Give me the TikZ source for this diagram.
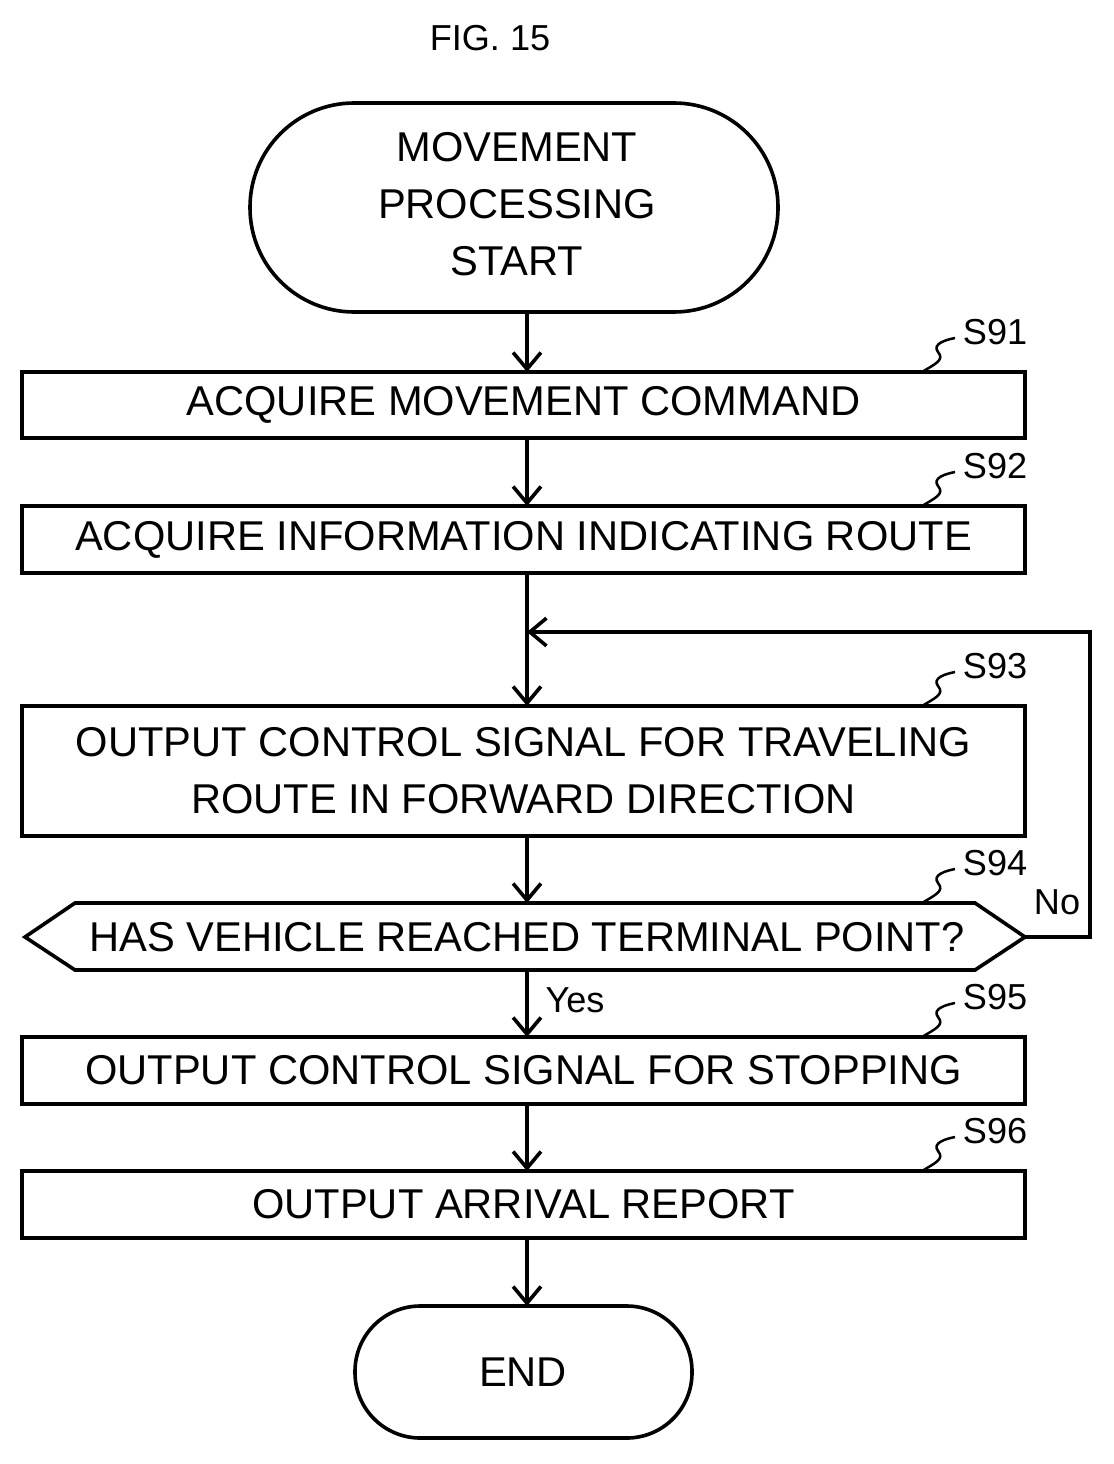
\documentclass[tikz,border=0pt]{standalone}
\usepackage{fontspec}
\setmainfont{Liberation Sans}
\usetikzlibrary{arrows.meta}
\begin{document}
\begin{tikzpicture}[x=0.72pt,y=-0.72pt,
  lw/.style={line width=2.6pt},
  txt/.style={font=\fontsize{30}{41}\selectfont,align=center},
  box/.style={draw,lw,rectangle,minimum width=1003*0.72pt,txt,inner sep=0pt},
  arr/.style={lw,-{Straight Barb[length=12pt,width=20pt,line width=2.6pt]}},
  lbl/.style={font=\fontsize{26}{30}\selectfont},
  sq/.style={line width=1.8pt}]
\useasboundingbox (0,0) rectangle (1113,1464);
\node[lbl] (fig) at (490,38) {FIG. 15};
\draw[lw,rounded corners=75pt] (250,103) rectangle (778,312);
\node[txt] (start) at (517,204) {MOVEMENT\\PROCESSING\\START};
\node[box,minimum height=66*0.72pt] (s91) at (523.5,405) {ACQUIRE MOVEMENT COMMAND};
\node[box,minimum height=67*0.72pt] (s92) at (523.5,539.5) {ACQUIRE INFORMATION INDICATING ROUTE};
\node[box,minimum height=130*0.72pt] (s93) at (523.5,771) {OUTPUT CONTROL SIGNAL FOR TRAVELING\\ROUTE IN FORWARD DIRECTION};
\draw[lw] (25,937) -- (75,903) -- (975,903) -- (1025,937) -- (975,970) -- (75,970) -- cycle;
\node[txt] (s94) at (527,937) {HAS VEHICLE REACHED TERMINAL POINT?};
\node[box,minimum height=67*0.72pt] (s95) at (523.5,1070.5) {OUTPUT CONTROL SIGNAL FOR STOPPING};
\node[box,minimum height=67*0.72pt] (s96) at (523.5,1204.5) {OUTPUT ARRIVAL REPORT};
\draw[lw,rounded corners=47pt] (355,1306) rectangle (692,1438);
\node[txt] (end) at (523,1372) {END};
\draw[arr] (527,312) -- (527,372);
\draw[arr] (527,438) -- (527,506);
\draw[arr] (527,573) -- (527,706);
\draw[arr] (527,836) -- (527,903);
\draw[arr] (527,970) -- (527,1037);
\draw[arr] (527,1104) -- (527,1171);
\draw[arr] (527,1238) -- (527,1306);
\draw[arr] (1025,937) -- (1090,937) -- (1090,632) -- (527,632);
\node[lbl] at (575,1000) {Yes};
\node[lbl] at (1057,902) {No};
\foreach \y/\t in {372/S91,506/S92,706/S93,903/S94,1037/S95,1171/S96}{
  \draw[sq] (922,\y) .. controls (935,\y-8) and (945,\y-12) .. (938,\y-20) .. controls (932,\y-28) and (945,\y-32) .. (955,\y-34);
  \node[lbl,anchor=west] at (958,\y-40) {\t};
}
\end{tikzpicture}
\end{document}
